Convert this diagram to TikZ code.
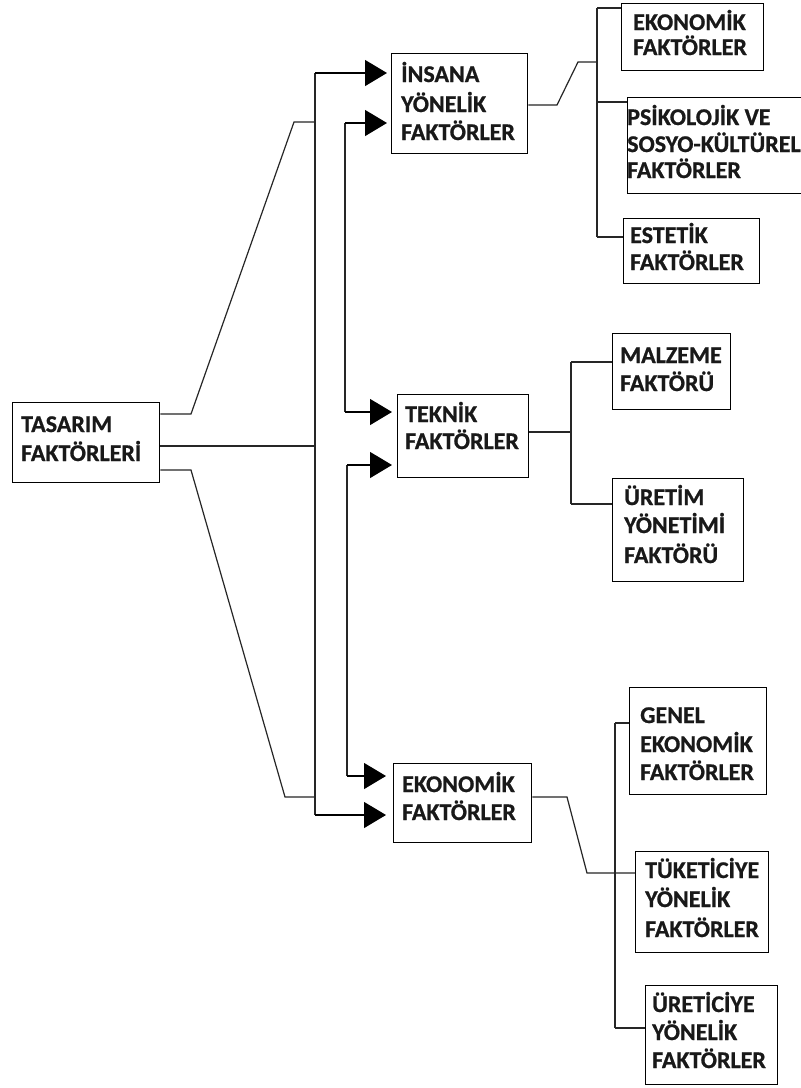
\documentclass[tikz,border=0pt]{standalone}
\usepackage{fontspec}
\setmainfont{Carlito}[BoldFeatures={FakeBold=0.8}]
\usetikzlibrary{arrows.meta,calc}
\tikzset{
  boxst/.style={draw=black, line width=1.3pt, inner sep=0pt, anchor=north west, fill=none},
  lbl/.style={inner sep=0pt, anchor=base west, font=\fontsize{24}{28}\selectfont\bfseries, text=black!90},
  conn/.style={draw=black!85, line width=1.2pt},
  arr/.style={conn, draw=black, -{Triangle[length=22pt,width=26pt]}}
}
% name, left, top, right, bottom
\newcommand\mkbox[5]{\node[boxst, minimum width=#4pt-#2pt, minimum height=#5pt-#3pt] (#1) at (#2,#3) {};}
\begin{document}
\begin{tikzpicture}[x=1pt,y=-1pt]
\clip[use as bounding box] (0,0) rectangle (801,1088);
\fill[white] (0,0) rectangle (801,1088);

% boxes
\mkbox{tas}{12}{402}{159}{482}
\mkbox{ins}{391}{53}{527}{153}
\mkbox{tek}{397}{394}{528}{477}
\mkbox{eko}{393}{763}{531}{842}
\mkbox{ekf}{621}{3}{763}{70}
\mkbox{psi}{627}{97}{812}{193}
\mkbox{est}{623}{218}{759}{283}
\mkbox{mal}{612}{333}{730}{409}
\mkbox{ure}{612}{478}{743}{581}
\mkbox{gen}{629}{687}{766}{794}
\mkbox{tuk}{635}{851}{768}{952}
\mkbox{uret}{645}{985}{777}{1084}

% texts
\node[lbl] (tas1) at (21,432) {TASARIM};
\node[lbl] (tas2) at (21,461) {FAKTÖRLERİ};
\node[lbl] (ins1) at (401,82) {İNSANA};
\node[lbl] (ins2) at (401,112) {YÖNELİK};
\node[lbl] (ins3) at (401,140) {FAKTÖRLER};
\node[lbl] (tek1) at (405,422) {TEKNİK};
\node[lbl] (tek2) at (405,449) {FAKTÖRLER};
\node[lbl] (eko1) at (402,792) {EKONOMİK};
\node[lbl] (eko2) at (402,820) {FAKTÖRLER};
\node[lbl] (ekf1) at (633,30) {EKONOMİK};
\node[lbl] (ekf2) at (633,55) {FAKTÖRLER};
\node[lbl] (psi1) at (627,125) {PSİKOLOJİK VE};
\node[lbl] (psi2) at (627,152) {SOSYO-KÜLTÜREL};
\node[lbl] (psi3) at (627,178) {FAKTÖRLER};
\node[lbl] (est1) at (630,243) {ESTETİK};
\node[lbl] (est2) at (630,270) {FAKTÖRLER};
\node[lbl] (mal1) at (620,363) {MALZEME};
\node[lbl] (mal2) at (620,391) {FAKTÖRÜ};
\node[lbl] (ure1) at (624,505) {ÜRETİM};
\node[lbl] (ure2) at (624,533) {YÖNETİMİ};
\node[lbl] (ure3) at (624,563) {FAKTÖRÜ};
\node[lbl] (gen1) at (640,723) {GENEL};
\node[lbl] (gen2) at (640,752) {EKONOMİK};
\node[lbl] (gen3) at (640,780) {FAKTÖRLER};
\node[lbl] (tuk1) at (645,878) {TÜKETİCİYE};
\node[lbl] (tuk2) at (645,907) {YÖNELİK};
\node[lbl] (tuk3) at (645,937) {FAKTÖRLER};
\node[lbl] (uret1) at (652,1012) {ÜRETİCİYE};
\node[lbl] (uret2) at (652,1040) {YÖNELİK};
\node[lbl] (uret3) at (652,1068) {FAKTÖRLER};

% junction coordinates
\coordinate (busT) at (315,73);
\coordinate (busB) at (315,815);
\coordinate (j1) at (315,122);
\coordinate (j2) at (315,446);
\coordinate (j3) at (315,797);
\coordinate (v1T) at (345,123);
\coordinate (v1B) at (345,412);
\coordinate (v2T) at (347,465);
\coordinate (v2B) at (347,776);
\coordinate (r1T) at (597,8);
\coordinate (r1B) at (597,237);
\coordinate (r2T) at (571,362);
\coordinate (r2B) at (571,504);
\coordinate (r3T) at (615,723);
\coordinate (r3B) at (615,1028);

% left side
\draw[conn] ($(tas.north east)+(0,12)$) -- (191,414) -- (294,122) -- (j1);
\draw[conn] ($(tas.north east)+(0,44)$) -- (j2);
\draw[conn] ($(tas.north east)+(0,68)$) -- (191,470) -- (285,797) -- (j3);
\draw[conn] (busT) -- (busB);
\draw[conn] (v1T) -- (v1B);
\draw[conn] (v2T) -- (v2B);

% arrows
\draw[arr, shorten >=4pt] (busT) -- (busT -| ins.west);
\draw[arr, shorten >=4pt] (v1T) -- (v1T -| ins.west);
\draw[arr, shorten >=5pt] (v1B) -- (v1B -| tek.west);
\draw[arr, shorten >=5pt] (v2T) -- (v2T -| tek.west);
\draw[arr, shorten >=7pt] (v2B) -- (v2B -| eko.west);
\draw[arr, shorten >=7pt] (busB) -- (busB -| eko.west);

% right side: insana
\draw[conn] ($(ins.north east)+(0,52)$) -- (557,105) -- (578,62) -- (597,62);
\draw[conn] (r1T) -- (r1B);
\draw[conn] (r1T) -- (r1T -| ekf.west);
\draw[conn] (597,102) -- ($(psi.north west)+(0,5)$);
\draw[conn] (r1B) -- (r1B -| est.west);

% right side: teknik
\draw[conn] ($(tek.north east)+(0,38)$) -- (571,432);
\draw[conn] (r2T) -- (r2B);
\draw[conn] (r2T) -- (r2T -| mal.west);
\draw[conn] (r2B) -- (r2B -| ure.west);

% right side: ekonomik
\draw[conn] ($(eko.north east)+(0,34)$) -- (567,797) -- (587,873) -- ($(tuk.north west)+(0,22)$);
\draw[conn] (r3T) -- (r3B);
\draw[conn] (r3T) -- (r3T -| gen.west);
\draw[conn] (r3B) -- (r3B -| uret.west);
\end{tikzpicture}
\end{document}
